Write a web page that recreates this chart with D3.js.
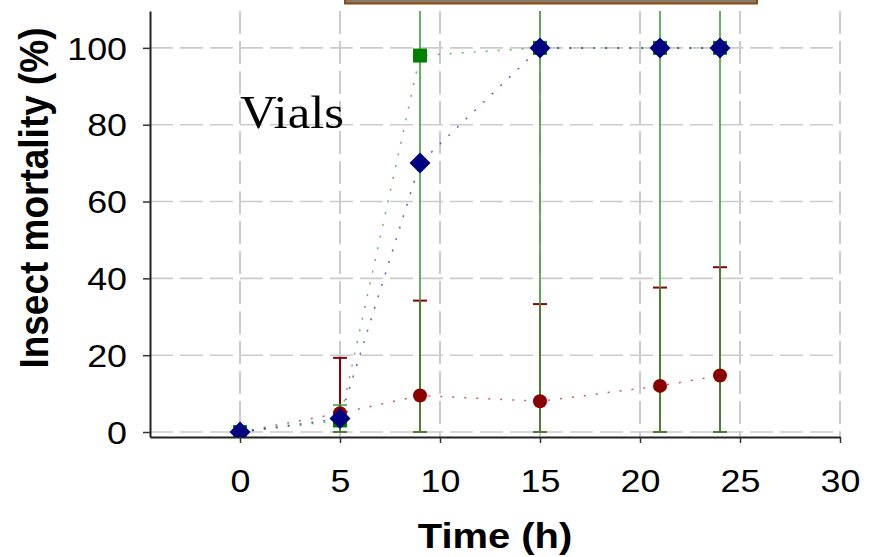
<!DOCTYPE html>
<html><head><meta charset="utf-8">
<script src="https://cdn.jsdelivr.net/npm/d3@7"></script>
<style>html,body{margin:0;padding:0;background:#fff;}svg{display:block;}</style>
</head><body>
<svg id="c" width="874" height="557"></svg>
<script>
const times = [0, 5, 9, 15, 21, 24];
const greenVals = [0, 3, 98, 100, 100, 100];
const blueVals = [0, 3.5, 70, 100, 100, 100];
const redVals = [0, 4.9, 9.5, 8, 12, 14.7];
const greenErrLow = [null, 0, 0, 0, 0, 0];
const greenErrHigh = [null, 7, 130, 130, 130, 130];
const redErrLow = [null, 0, 0, 0, 0, 0];
const redErrHigh = [null, 19.3, 34.2, 33.3, 37.6, 42.9];
const xTicks = [0, 5, 10, 15, 20, 25, 30];
const yTicks = [0, 20, 40, 60, 80, 100];
const xTitle = "Time (h)";
const yTitle = "Insect mortality (%)";
const panelLabel = "Vials";

const svg = d3.select("#c");
const x = d3.scaleLinear().domain([-4.5, 30]).range([150, 840]);
const y = d3.scaleLinear().domain([-1.3, 109.6]).range([437, 11]);

svg.append("defs").append("clipPath").attr("id", "plot")
  .append("rect").attr("x", 150).attr("y", 11).attr("width", 690).attr("height", 426);

// brown box cut at top
svg.append("rect").attr("x", 345).attr("y", -6).attr("width", 412).attr("height", 9.5)
  .attr("fill", "#857b69").attr("stroke", "#8b4a10").attr("stroke-width", 2);

// gridlines
const grid = svg.append("g");
grid.selectAll("line.h").data(yTicks).join("line")
  .attr("x1", x(-4.5)).attr("x2", x(30)).attr("y1", d => y(d)).attr("y2", d => y(d))
  .attr("stroke", "#cbcbcb").attr("stroke-width", 1.6).attr("stroke-dasharray", "23,7");
grid.selectAll("line.v").data(xTicks).join("line")
  .attr("x1", d => x(d)).attr("x2", d => x(d)).attr("y1", y(109.6)).attr("y2", y(-1.3))
  .attr("stroke", "#cbcbcb").attr("stroke-width", 2).attr("stroke-dasharray", "23,7");

// axes
const xAxis = d3.axisBottom(x).tickValues(xTicks).tickSize(6).tickSizeOuter(0).tickFormat(d3.format("d"));
const gx = svg.append("g").attr("transform", `translate(0,${y(-1.3)})`).call(xAxis);
gx.select(".domain").attr("stroke", "#222").attr("stroke-width", 2);
gx.selectAll(".tick line").attr("stroke", "#333").attr("stroke-width", 1.5);
gx.selectAll(".tick text").attr("y", 0).attr("dy", 0)
  .attr("transform", "translate(0,55) scale(1.12,1)")
  .attr("font-family", "'Liberation Sans', Arial, sans-serif").attr("font-size", 32).attr("fill", "#000");

const yAxis = d3.axisLeft(y).tickValues(yTicks).tickSize(7).tickSizeOuter(0);
const gy = svg.append("g").attr("transform", `translate(${x(-4.5)},0)`).call(yAxis);
gy.select(".domain").attr("stroke", "#222").attr("stroke-width", 2);
gy.selectAll(".tick line").attr("stroke", "#333").attr("stroke-width", 1.5);
gy.selectAll(".tick text").attr("x", 0).attr("dy", "0.35em")
  .attr("transform", "translate(-23,0) scale(1.12,1)")
  .attr("font-family", "'Liberation Sans', Arial, sans-serif").attr("font-size", 32).attr("fill", "#000");

// titles
svg.append("text").attr("transform", "translate(495,548) scale(1.14,1)")
  .attr("text-anchor", "middle").attr("font-family", "'Liberation Sans', Arial, sans-serif")
  .attr("font-weight", "bold").attr("font-size", 35).text(xTitle);
svg.append("text").attr("transform", "translate(48,198) scale(1.1,1) rotate(-90)")
  .attr("text-anchor", "middle").attr("font-family", "'Liberation Sans', Arial, sans-serif")
  .attr("font-weight", "bold").attr("font-size", 37).text(yTitle);
svg.append("text").attr("transform", "translate(240,128) scale(1.08,1)")
  .attr("font-family", "'Liberation Serif', 'Times New Roman', serif")
  .attr("font-size", 47).text(panelLabel);

const plot = svg.append("g").attr("clip-path", "url(#plot)");

// dotted connecting lines
function series(vals) { return times.map((t, i) => [t, vals[i]]); }
const line = d3.line().x(d => x(d[0])).y(d => y(d[1]));
[[redVals, "#b03a3a"], [greenVals, "#3aa63a"], [blueVals, "#3a3aa6"]].forEach(([v, c]) => {
  plot.append("path").attr("d", line(series(v))).attr("fill", "none")
    .attr("stroke", c).attr("stroke-width", 1.5).attr("stroke-dasharray", "2,10").attr("opacity", 0.8);
});

// error bars
function errBars(lo, hi, color, opacity) {
  const idx = times.map((t, i) => i).filter(i => lo[i] !== null);
  const g = plot.append("g").attr("stroke", color).attr("stroke-width", 2).attr("opacity", opacity);
  g.selectAll("line.s").data(idx).join("line")
    .attr("x1", i => x(times[i])).attr("x2", i => x(times[i]))
    .attr("y1", i => y(lo[i])).attr("y2", i => y(hi[i]));
  g.selectAll("line.lo").data(idx).join("line")
    .attr("x1", i => x(times[i]) - 7).attr("x2", i => x(times[i]) + 7)
    .attr("y1", i => y(lo[i])).attr("y2", i => y(lo[i]));
  g.selectAll("line.hi").data(idx).join("line")
    .attr("x1", i => x(times[i]) - 7).attr("x2", i => x(times[i]) + 7)
    .attr("y1", i => y(hi[i])).attr("y2", i => y(hi[i]));
}
errBars(redErrLow, redErrHigh, "#8b0000", 1);
errBars(greenErrLow, greenErrHigh, "#3e9e3e", 0.8);

// markers
plot.selectAll("circle.r").data(series(redVals)).join("circle")
  .attr("cx", d => x(d[0])).attr("cy", d => y(d[1])).attr("r", 7).attr("fill", "#8b0000");
plot.selectAll("rect.g").data(series(greenVals)).join("rect")
  .attr("x", d => x(d[0]) - 7).attr("y", d => y(d[1]) - 7).attr("width", 14).attr("height", 14)
  .attr("fill", "#008000");
const dm = 10.5;
plot.selectAll("path.b").data(series(blueVals)).join("path")
  .attr("transform", d => `translate(${x(d[0])},${y(d[1])})`)
  .attr("d", `M0,${-dm}L${dm},0L0,${dm}L${-dm},0Z`).attr("fill", "#000080");
</script>
</body></html>
